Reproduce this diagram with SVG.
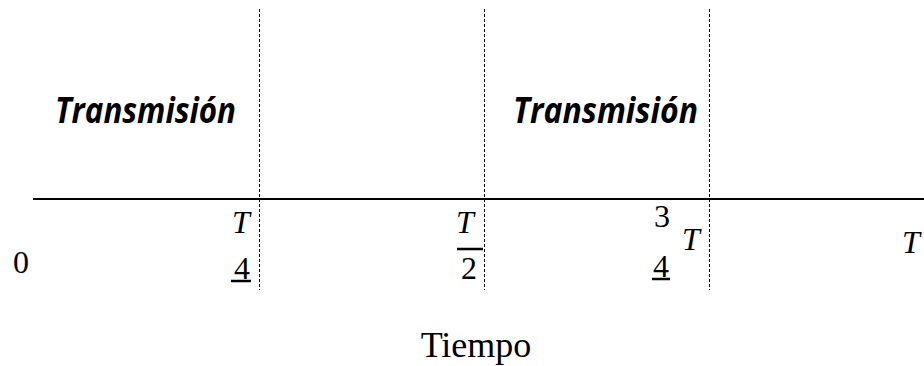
<svg xmlns="http://www.w3.org/2000/svg" width="924" height="366" viewBox="0 0 924 366">
<style>
.lbl{font-family:"Open Sans","Liberation Sans",sans-serif;font-weight:700;font-style:italic;font-size:35px;fill:#000}
.m{font-family:"Liberation Serif","DejaVu Serif",serif;font-size:32px;fill:#000}
.mi{font-style:italic}
.t{font-family:"Liberation Serif","Times New Roman",serif;font-size:36px;fill:#000}
.dash{stroke:#000;stroke-width:1;stroke-dasharray:3 2;fill:none}
.bar{stroke:#000;stroke-width:2.5}
</style>
<rect width="924" height="366" fill="#fff"/>
<g id="connectors">
<line id="axis" x1="33" y1="199" x2="924" y2="199" stroke="#000" stroke-width="2"/>
<line class="dash" x1="259.5" y1="9" x2="259.5" y2="290"/>
<line class="dash" x1="484.5" y1="9" x2="484.5" y2="290"/>
<line class="dash" x1="709.5" y1="9" x2="709.5" y2="290"/>
</g>
<g id="tx1"><text class="lbl" x="55" y="123" textLength="181" lengthAdjust="spacingAndGlyphs">Transmisión</text></g>
<g id="tx2"><text class="lbl" x="513" y="123" textLength="185" lengthAdjust="spacingAndGlyphs">Transmisión</text></g>
<g id="zero"><text class="m" x="13" y="273" font-size="28">0</text></g>
<g id="t4">
<text class="m mi" x="232" y="233">T</text>
<text class="m" x="234" y="279">4</text>
<line class="bar" x1="231" y1="281" x2="251" y2="281"/>
</g>
<g id="t2">
<text class="m mi" x="456" y="233">T</text>
<line class="bar" x1="457" y1="249" x2="483" y2="249"/>
<text class="m" x="461" y="279">2</text>
</g>
<g id="t34">
<text class="m" x="654" y="227">3</text>
<text class="m mi" x="682" y="250">T</text>
<text class="m" x="653" y="277">4</text>
<line class="bar" x1="652" y1="279" x2="670" y2="279"/>
</g>
<g id="tT"><text class="m mi" x="902" y="253">T</text></g>
<g id="tiempo"><text class="t" x="476" y="357" text-anchor="middle">Tiempo</text></g>
</svg>
